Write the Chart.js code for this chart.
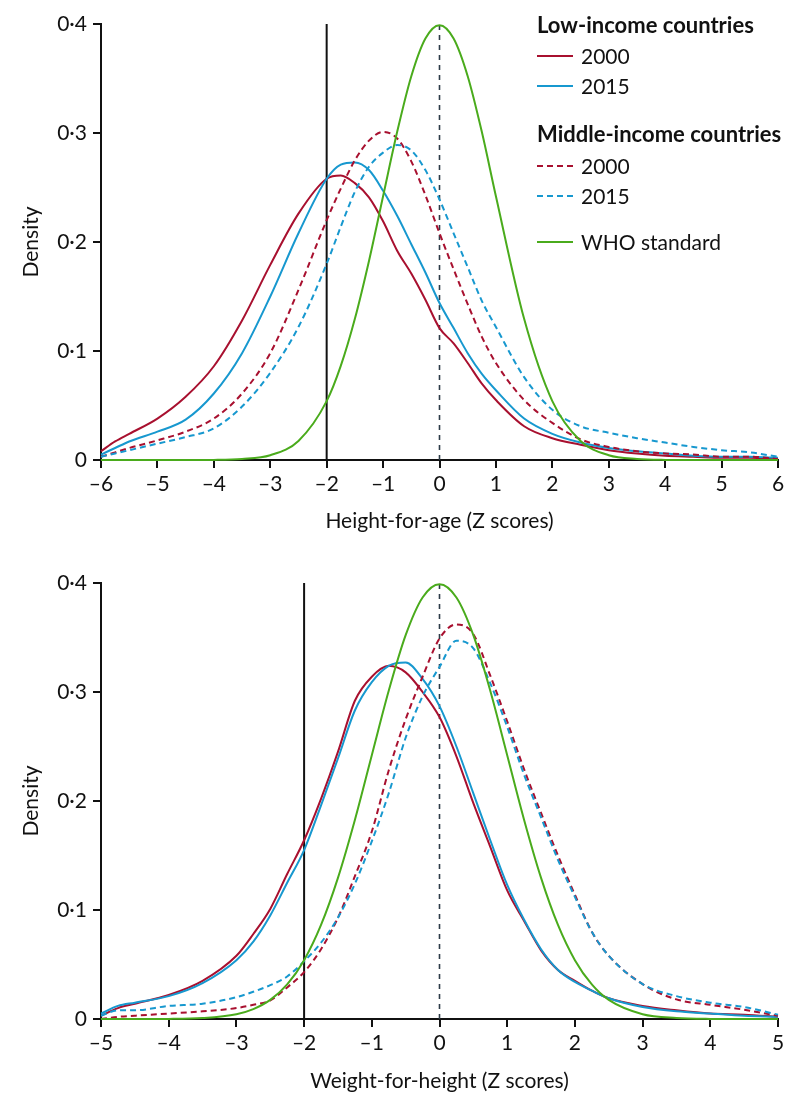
<!DOCTYPE html>
<html>
<head>
<meta charset="utf-8">
<script src="https://cdn.jsdelivr.net/npm/chart.js@4.4.1/dist/chart.umd.min.js"></script>
<style>
  html, body { margin: 0; padding: 0; background: #fff; }
  #wrap { position: relative; width: 800px; height: 1112px; }
  canvas { position: absolute; left: 0; }
</style>
</head>
<body>
<div id="wrap">
  <canvas id="c1" width="800" height="556" style="top:0"></canvas>
  <canvas id="c2" width="800" height="556" style="top:556px"></canvas>
</div>
<script>
// ---------- Data: Height-for-age (top panel) ----------
const hfaZ = [-6,-5.75,-5.5,-5,-4.5,-4,-3.5,-3,-2.5,-2,-1.75,-1.5,-1.25,-1,-0.75,-0.5,-0.25,0,0.25,0.5,0.75,1,1.5,2,2.5,3,3.5,4,4.5,5,5.5,6];
const hfaLow2000 = [0.008,0.017,0.024,0.038,0.058,0.086,0.128,0.179,0.226,0.258,0.261,0.254,0.241,0.219,0.192,0.171,0.147,0.121,0.107,0.089,0.070,0.055,0.031,0.020,0.014,0.009,0.006,0.004,0.003,0.002,0.002,0.001];
const hfaLow2015 = [0.005,0.011,0.017,0.026,0.037,0.061,0.098,0.150,0.208,0.258,0.271,0.273,0.266,0.247,0.224,0.198,0.172,0.144,0.121,0.098,0.079,0.064,0.038,0.024,0.016,0.011,0.008,0.006,0.004,0.003,0.003,0.002];
const hfaMid2000 = [0.003,0.007,0.011,0.018,0.026,0.038,0.061,0.098,0.156,0.220,0.249,0.275,0.293,0.301,0.295,0.274,0.243,0.208,0.175,0.143,0.113,0.089,0.055,0.034,0.019,0.012,0.008,0.006,0.005,0.003,0.003,0.001];
const hfaMid2015 = [0.003,0.006,0.009,0.015,0.021,0.029,0.049,0.080,0.122,0.180,0.214,0.246,0.269,0.282,0.289,0.284,0.266,0.239,0.208,0.177,0.146,0.122,0.076,0.046,0.031,0.025,0.020,0.016,0.012,0.009,0.007,0.003];
const hfaWHO = [0,0,0,0,0,0.0001,0.0009,0.0044,0.0175,0.054,0.0863,0.1295,0.1826,0.242,0.3011,0.3521,0.3867,0.3989,0.3867,0.3521,0.3011,0.242,0.1295,0.054,0.0175,0.0044,0.0009,0.0001,0,0,0,0];
const hfaXTicks = [-6,6];

// ---------- Data: Weight-for-height (bottom panel) ----------
const whzZ = [-5,-4.75,-4.5,-4,-3.5,-3,-2.75,-2.5,-2.25,-2,-1.75,-1.5,-1.25,-1,-0.75,-0.5,-0.25,0,0.25,0.5,0.75,1,1.25,1.5,1.75,2,2.25,2.5,3,3.5,4,4.5,5];
const whzLow2000 = [0.003,0.010,0.014,0.022,0.035,0.058,0.078,0.101,0.133,0.164,0.202,0.245,0.292,0.314,0.324,0.318,0.300,0.277,0.241,0.198,0.158,0.118,0.090,0.063,0.045,0.035,0.026,0.019,0.012,0.008,0.005,0.004,0.002];
const whzLow2015 = [0.005,0.012,0.015,0.021,0.033,0.054,0.071,0.095,0.125,0.155,0.196,0.239,0.283,0.309,0.324,0.327,0.312,0.287,0.250,0.207,0.164,0.123,0.091,0.064,0.045,0.034,0.026,0.019,0.011,0.007,0.005,0.003,0.002];
const whzMid2000 = [0.000,0.002,0.003,0.005,0.007,0.010,0.013,0.017,0.029,0.043,0.064,0.093,0.131,0.172,0.228,0.275,0.314,0.349,0.362,0.353,0.315,0.273,0.229,0.189,0.150,0.114,0.080,0.058,0.032,0.018,0.013,0.0085,0.003];
const whzMid2015 = [0.003,0.008,0.008,0.012,0.014,0.020,0.025,0.031,0.039,0.053,0.070,0.093,0.124,0.163,0.207,0.258,0.296,0.323,0.347,0.340,0.308,0.268,0.224,0.185,0.146,0.112,0.080,0.058,0.032,0.021,0.015,0.011,0.004];
const whzWHO = [0.0000,0.0000,0.0000,0.0001,0.0009,0.0044,0.0091,0.0175,0.0317,0.054,0.0863,0.1295,0.1826,0.242,0.3011,0.3521,0.3867,0.3989,0.3867,0.3521,0.3011,0.242,0.1826,0.1295,0.0863,0.054,0.0317,0.0175,0.0044,0.0009,0.0001,0.0000,0.0000];
const whzXTicks = [-5,5];

const yTicks = [0, 0.4];
const cutoffZ = -2;

// ---------- Styles ----------
const RED = '#a8102f';
const BLUE = '#1798cf';
const GREEN = '#4aab1c';
const DASH = [6, 4];
const FONT = 'Lato, "Open Sans", sans-serif';

function pts(xs, ys) { return xs.map((x, i) => ({ x: x, y: ys[i] })); }

function curve(xs, ys, color, dashed, order) {
  return {
    data: pts(xs, ys),
    borderColor: color,
    borderWidth: 2,
    borderDash: dashed ? DASH : [],
    pointRadius: 0,
    cubicInterpolationMode: 'monotone',
    fill: false,
    clip: false,
    order: order
  };
}

function vline(x, color, dashed, width) {
  return {
    data: [{ x: x, y: yTicks[0] }, { x: x, y: yTicks[1] }],
    borderColor: color,
    borderWidth: width,
    borderDash: dashed ? [5, 5] : [],
    pointRadius: 0,
    fill: false,
    clip: false,
    order: 10
  };
}

const legendPlugin = {
  id: 'groupLegend',
  afterDraw(chart) {
    const ctx = chart.ctx;
    ctx.save();
    ctx.fillStyle = '#111';
    ctx.textBaseline = 'alphabetic';
    ctx.textAlign = 'left';
    ctx.font = 'bold 22px ' + FONT;
    ctx.fillText('Low-income countries', 537, 33);
    ctx.fillText('Middle-income countries', 537, 142);
    const rows = [
      { y: 56, color: RED, dashed: false, text: '2000' },
      { y: 86, color: BLUE, dashed: false, text: '2015' },
      { y: 166, color: RED, dashed: true, text: '2000' },
      { y: 196, color: BLUE, dashed: true, text: '2015' },
      { y: 242, color: GREEN, dashed: false, text: 'WHO standard' }
    ];
    ctx.font = '21px ' + FONT;
    ctx.textBaseline = 'middle';
    rows.forEach(r => {
      ctx.beginPath();
      ctx.strokeStyle = r.color;
      ctx.lineWidth = 2;
      ctx.setLineDash(r.dashed ? DASH : []);
      ctx.moveTo(537, r.y);
      ctx.lineTo(573, r.y);
      ctx.stroke();
      ctx.setLineDash([]);
      ctx.fillStyle = '#111';
      ctx.fillText(r.text, 581, r.y + 1);
    });
    ctx.restore();
  }
};

function makeChart(id, xs, sets, xTicks, xTitle, topPad, xAxisH, titleBottomPad, plugins) {
  const datasets = [
    vline(cutoffZ, '#111', false, 2),
    vline(0, '#2c3b47', true, 1.6),
    curve(xs, sets[0], RED, false, 5),
    curve(xs, sets[1], BLUE, false, 4),
    curve(xs, sets[2], RED, true, 3),
    curve(xs, sets[3], BLUE, true, 2),
    curve(xs, sets[4], GREEN, false, 1)
  ];
  return new Chart(document.getElementById(id), {
    type: 'line',
    data: { datasets: datasets },
    plugins: plugins,
    options: {
      responsive: false,
      animation: false,
      events: [],
      layout: { padding: { top: topPad, right: 22, left: 0, bottom: 0 } },
      plugins: { legend: { display: false }, tooltip: { enabled: false } },
      scales: {
        x: {
          type: 'linear',
          min: xTicks[0],
          max: xTicks[1],
          afterFit: s => { s.height = xAxisH; },
          border: { display: true, color: '#111', width: 2 },
          grid: { drawOnChartArea: false, drawTicks: true, tickLength: 8, color: '#111', lineWidth: 2 },
          ticks: {
            stepSize: 1,
            padding: 4,
            color: '#111',
            font: { family: FONT, size: 21 },
            callback: v => (v < 0 ? '\u2013' + Math.abs(v) : String(v))
          },
          title: {
            display: true,
            text: xTitle,
            color: '#111',
            font: { family: FONT, size: 21 },
            padding: { top: 0, bottom: titleBottomPad }
          }
        },
        y: {
          type: 'linear',
          min: yTicks[0],
          max: yTicks[1],
          afterFit: s => { s.width = 101; },
          border: { display: true, color: '#111', width: 2 },
          grid: { drawOnChartArea: false, drawTicks: true, tickLength: 8, color: '#111', lineWidth: 2 },
          ticks: {
            stepSize: 0.1,
            padding: 6,
            color: '#111',
            font: { family: FONT, size: 21 },
            callback: v => (Math.abs(v) < 1e-9 ? '0' : v.toFixed(1).replace('.', '\u00b7'))
          },
          title: {
            display: true,
            text: 'Density',
            color: '#111',
            font: { family: FONT, size: 21 },
            padding: { top: 19, bottom: 0 }
          }
        }
      }
    }
  });
}

makeChart('c1', hfaZ, [hfaLow2000, hfaLow2015, hfaMid2000, hfaMid2015, hfaWHO], hfaXTicks,
  'Height-for-age (Z scores)', 24, 96, 22, [legendPlugin]);
makeChart('c2', whzZ, [whzLow2000, whzLow2015, whzMid2000, whzMid2015, whzWHO], whzXTicks,
  'Weight-for-height (Z scores)', 27, 93, 18, []);
</script>
</body>
</html>
